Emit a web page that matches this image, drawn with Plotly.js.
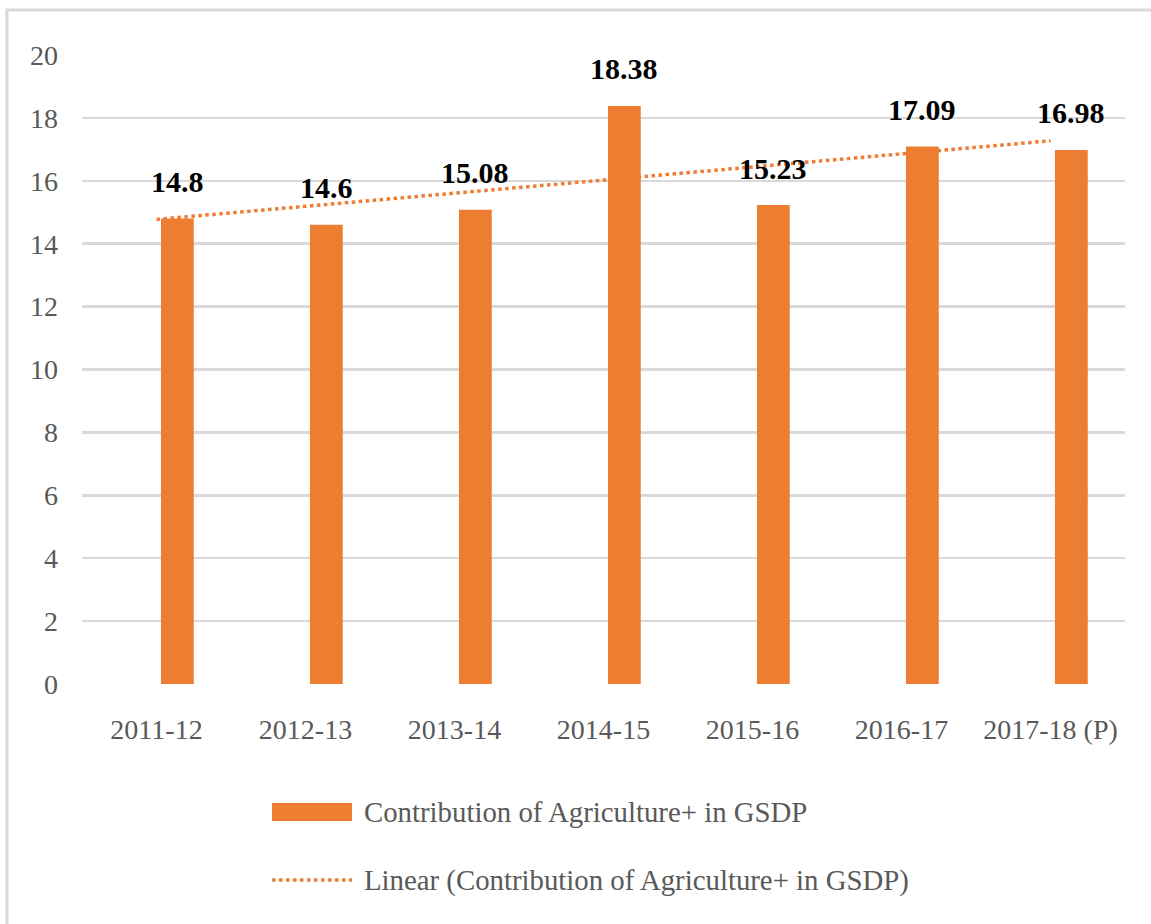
<!DOCTYPE html>
<html>
<head>
<meta charset="utf-8">
<script src="https://cdn.plot.ly/plotly-3.0.1.min.js"></script>
<style>
  html, body { margin: 0; padding: 0; background: #fff; }
  #chart { width: 1151px; height: 924px; }
</style>
</head>
<body>
<div id="chart"></div>
<script>
// ---- Data ----
const categories = ['2011-12', '2012-13', '2013-14', '2014-15', '2015-16', '2016-17', '2017-18 (P)'];
const contribution = [14.8, 14.6, 15.08, 18.38, 15.23, 17.09, 16.98];
const valueLabels = ['14.8', '14.6', '15.08', '18.38', '15.23', '17.09', '16.98'];
const seriesName = 'Contribution of Agriculture+ in GSDP';
const trendName = 'Linear (Contribution of Agriculture+ in GSDP)';
const yTicks = [0, 2, 4, 6, 8, 10, 12, 14, 16, 18, 20];

// ---- Linear trendline (least squares fit of the series) ----
const idx = categories.map((_, i) => i);
const n = contribution.length;
const mx = idx.reduce((a, b) => a + b, 0) / n;
const my = contribution.reduce((a, b) => a + b, 0) / n;
let sxy = 0, sxx = 0;
idx.forEach((x, i) => { sxy += (x - mx) * (contribution[i] - my); sxx += (x - mx) * (x - mx); });
const slope = sxy / sxx;
const intercept = my - slope * mx;
const trendY = idx.map(x => intercept + slope * x);

// ---- Layout geometry ----
const W = 1151, H = 924;
const M = { l: 82, r: 26, t: 55, b: 240 };
const PW = W - M.l - M.r, PH = H - M.t - M.b;
const px = x => (x - M.l) / PW;
const py = y => (H - M.b - y) / PH;

const orange = '#ED7D31';
const grey = '#595959';
const font = '"Liberation Serif", "Times New Roman", serif';
const barShift = 0.14;   // bars sit slightly right of their category centre in the reference
const barWidth = 0.22;

const traces = [
  {
    type: 'bar',
    x: idx,
    y: contribution,
    name: seriesName,
    marker: { color: orange },
    width: barWidth,
    offset: barShift - barWidth / 2,
    hoverinfo: 'x+y'
  },
  {
    type: 'scatter',
    mode: 'lines',
    x: idx,
    y: trendY,
    name: trendName,
    line: { color: orange, width: 3.5, dash: 'dot' }
  }
];

const annotations = idx.map((x, i) => ({
  x: x + barShift, y: contribution[i], xref: 'x', yref: 'y',
  text: valueLabels[i], showarrow: false,
  yshift: 37, yanchor: 'middle',
  font: { family: font, size: 30, color: '#000', weight: 'bold' }
}));

// custom legend
annotations.push(
  { xref: 'paper', yref: 'paper', x: px(362), y: py(812), xanchor: 'left', yanchor: 'middle',
    text: seriesName, showarrow: false, font: { family: font, size: 28.8, color: grey } },
  { xref: 'paper', yref: 'paper', x: px(362), y: py(880), xanchor: 'left', yanchor: 'middle',
    text: trendName, showarrow: false, font: { family: font, size: 28.8, color: grey } }
);

const shapes = [
  { type: 'rect', xref: 'paper', yref: 'paper', x0: px(272), x1: px(352), y0: py(821), y1: py(803),
    fillcolor: orange, line: { width: 0 } },
  { type: 'line', xref: 'paper', yref: 'paper', x0: px(272), x1: px(352), y0: py(880), y1: py(880),
    line: { color: orange, width: 3.5, dash: 'dot' } },
  // outer chart border (only top and left visible in frame)
  { type: 'rect', xref: 'paper', yref: 'paper', x0: px(7), x1: px(1200), y0: py(10), y1: py(1000),
    fillcolor: 'rgba(0,0,0,0)', line: { color: '#d9d9d9', width: 3 } }
];

const layout = {
  width: W, height: H,
  margin: M,
  paper_bgcolor: '#fff',
  plot_bgcolor: '#fff',
  showlegend: false,
  font: { family: font, color: grey, size: 28 },
  xaxis: {
    range: [-0.5, 6.5],
    tickmode: 'array', tickvals: idx, ticktext: categories,
    showgrid: false, zeroline: false, showline: false, ticks: '',
    ticklabelstandoff: 26,
    tickfont: { family: font, size: 28, color: grey },
    fixedrange: true
  },
  yaxis: {
    range: [0, 20],
    tickmode: 'array', tickvals: yTicks,
    showgrid: true, gridcolor: '#d9d9d9', gridwidth: 2.5,
    zeroline: false, showline: false, ticks: '',
    ticklabelstandoff: 23,
    tickfont: { family: font, size: 28, color: grey },
    fixedrange: true
  },
  annotations: annotations,
  shapes: shapes
};

Plotly.newPlot('chart', traces, layout, { displayModeBar: false, staticPlot: true });
</script>
</body>
</html>
